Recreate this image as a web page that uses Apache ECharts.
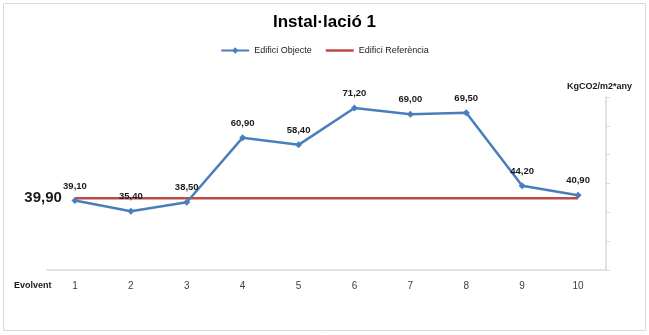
<!DOCTYPE html>
<html>
<head>
<meta charset="utf-8">
<script src="https://cdn.jsdelivr.net/npm/echarts@6/dist/echarts.min.js"></script>
<style>
html,body{margin:0;padding:0;background:#fff;}
#instal_1{width:649px;height:335px;}
</style>
</head>
<body>
<div id="instal_1"></div>
<script>
var categories = ['1','2','3','4','5','6','7','8','9','10'];
var objecteValues = [39.10, 35.40, 38.50, 60.90, 58.40, 71.20, 69.00, 69.50, 44.20, 40.90];
var referenciaValues = [39.90, 39.90, 39.90, 39.90, 39.90, 39.90, 39.90, 39.90, 39.90, 39.90];
var yTicks = [15, 25, 35, 45, 55, 65, 75];

var fontName = '"Liberation Sans Narrow", "Liberation Sans", sans-serif';

function comaFmt(v){
	return Number(v).toFixed(2).replace('.', ',');
}

var refData = [];
for(i=0;i<referenciaValues.length;i++){
	var item = {value: referenciaValues[i]};
	if(i==0){
		// only first point carries the reference value, on the left
		item.symbol = 'circle';
		item.symbolSize = 0.1;
		item.label = {
			show: true,
			position: 'left',
			distance: 13,
			fontSize: 15,
			fontWeight: 'bold',
			color: '#1a1a1a',
			fontFamily: fontName,
			formatter: function(p){ return comaFmt(p.value); }
		};
	}
	refData.push(item);
}

var myChart = echarts.init(document.getElementById("instal_1"));
var option = {
	backgroundColor: '#fff',
	animation: false,
	textStyle: {fontFamily: fontName},
	title: {
		text: 'Instal·lació 1',
		left: 'center',
		top: 9,
		textStyle: {fontSize: 17, fontWeight: 'bold', color: '#000', fontFamily: fontName}
	},
	legend: {
		top: 41,
		left: 'center',
		itemGap: 14,
		itemWidth: 28,
		itemHeight: 8,
		textStyle: {fontSize: 9, color: '#1a1a1a', fontFamily: fontName},
		data: [
			{name: 'Edifici Objecte'},
			{name: 'Edifici Referència', icon: 'path://M0,0 L28,0 L28,2.5 L0,2.5 Z'}
		]
	},
	graphic: [
		{
			type: 'rect',
			shape: {x: 3.5, y: 3.5, width: 642, height: 327},
			style: {fill: 'none', stroke: '#d9d9d9', lineWidth: 1},
			silent: true
		},
		{
			type: 'text',
			left: 14,
			top: 281,
			style: {text: 'Evolvent', fontSize: 9, fontWeight: 'bold', fill: '#1a1a1a', fontFamily: fontName}
		}
	],
	grid: {left: 47, right: 43, top: 97, bottom: 65},
	xAxis: {
		type: 'category',
		data: categories,
		boundaryGap: true,
		axisLine: {lineStyle: {color: '#d9d9d9', width: 1.5}},
		axisTick: {show: false},
		axisLabel: {margin: 11, fontSize: 10, color: '#404040', fontFamily: fontName}
	},
	yAxis: {
		type: 'value',
		position: 'right',
		min: 15,
		max: 75,
		name: 'KgCO2/m2*any',
		nameLocation: 'end',
		nameGap: 6,
		nameTextStyle: {fontSize: 9, fontWeight: 'bold', color: '#1a1a1a', align: 'center', padding: [0, 13, 0, 0], fontFamily: fontName},
		axisLine: {show: true, lineStyle: {color: '#d9d9d9', width: 1.5}},
		axisTick: {show: true, length: 4, customValues: yTicks, lineStyle: {color: '#d9d9d9'}},
		axisLabel: {show: false},
		splitLine: {show: false}
	},
	series: [
		{
			name: 'Edifici Referència',
			type: 'line',
			data: refData,
			symbol: 'none',
			lineStyle: {color: '#be4b48', width: 2.5},
			itemStyle: {color: '#be4b48'},
			z: 2
		},
		{
			name: 'Edifici Objecte',
			type: 'line',
			data: objecteValues,
			symbol: 'diamond',
			symbolSize: 7,
			lineStyle: {color: '#4a7ebb', width: 2.5},
			itemStyle: {color: '#4a7ebb'},
			label: {
				show: true,
				position: 'top',
				distance: 6,
				fontSize: 9.5,
				fontWeight: 'bold',
				color: '#1a1a1a',
				fontFamily: fontName,
				formatter: function(p){ return comaFmt(p.value); }
			},
			z: 3
		}
	]
};
myChart.setOption(option);
</script>
</body>
</html>
